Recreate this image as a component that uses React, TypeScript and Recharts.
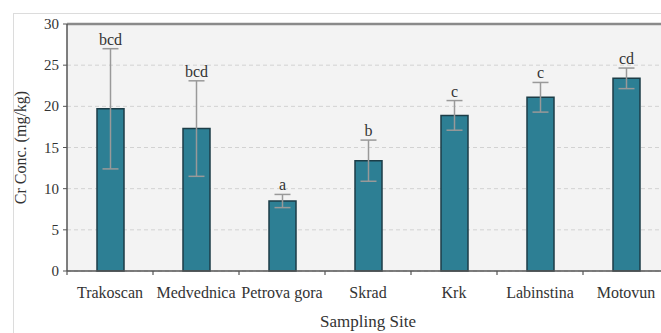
import { Bar, BarChart, CartesianGrid, ErrorBar, LabelList, ReferenceLine, XAxis, YAxis } from 'recharts';

const sites = ['Trakoscan', 'Medvednica', 'Petrova gora', 'Skrad', 'Krk', 'Labinstina', 'Motovun'];
const means = [19.7, 17.3, 8.5, 13.4, 18.9, 21.1, 23.4];
const errors = [7.3, 5.8, 0.8, 2.5, 1.8, 1.8, 1.25];
const groups = ['bcd', 'bcd', 'a', 'b', 'c', 'c', 'cd'];
const yTicks = [0, 5, 10, 15, 20, 25, 30];

const data = sites.map((site, i) => ({ site, cr: means[i], err: errors[i], group: groups[i] }));

const FONT = '"Liberation Serif", serif';
const TEXT = '#333';

function GroupLabel(props: any) {
  const { x, y, width, height, index } = props;
  const d = data[index];
  const perUnit = height / d.cr;
  const top = y - d.err * perUnit;
  return (
    <text x={x + width / 2} y={top - 4} textAnchor="middle" fontFamily={FONT} fontSize={16} fill={TEXT}>
      {d.group}
    </text>
  );
}

// category label at the band centre, small tick marks at the band edges
function SiteTick(props: any) {
  const { x, y, payload, index } = props;
  const half = payload.offset || 0;
  const last = index === sites.length - 1;
  return (
    <g>
      <line x1={x - half} x2={x - half} y1={y} y2={y + 4} stroke="#555" strokeWidth={1.2} />
      {last && <line x1={x + half} x2={x + half} y1={y} y2={y + 4} stroke="#555" strokeWidth={1.2} />}
      <text x={x} y={y + 27} textAnchor="middle" fontFamily={FONT} fontSize={16} fill={TEXT}>
        {payload.value}
      </text>
    </g>
  );
}

function ValueTick(props: any) {
  const { x, y, payload } = props;
  return (
    <text x={x} y={y + 5} textAnchor="end" fontFamily={FONT} fontSize={15} fill={TEXT}>
      {payload.value}
    </text>
  );
}

export default function App() {
  return (
    <div
      style={{
        position: 'absolute',
        left: 0,
        top: 0,
        width: 661,
        height: 333,
        overflow: 'hidden',
        background: '#fff',
      }}
    >
      <div
        style={{
          position: 'absolute',
          left: 13,
          top: 13,
          width: 700,
          height: 400,
          borderLeft: '1px solid #dcdcdc',
          borderTop: '1px solid #dcdcdc',
        }}
      />
      <div style={{ position: 'absolute', left: 0, top: 0 }}>
        <BarChart width={690} height={333} data={data} margin={{ top: 24, right: 21, bottom: 0, left: 0 }}>
          <CartesianGrid vertical={false} fill="#f3f3f3" stroke="#d2d2d2" strokeDasharray="4 3" />
          <XAxis
            dataKey="site"
            tickLine={false}
            tickSize={0}
            tickMargin={0}
            axisLine={{ stroke: '#555', strokeWidth: 1.5 }}
            height={62}
            tick={<SiteTick />}
            interval={0}
            label={{
              value: 'Sampling Site',
              position: 'insideBottom',
              offset: 6,
              style: { fontFamily: FONT, fontSize: 17, fill: TEXT },
            }}
          />
          <YAxis
            domain={[0, 30]}
            ticks={yTicks}
            width={67}
            axisLine={{ stroke: '#555', strokeWidth: 1.5 }}
            tickLine={{ stroke: '#555' }}
            tickSize={4}
            tickMargin={4}
            tick={<ValueTick />}
            label={{
              value: 'Cr Conc. (mg/kg)',
              angle: -90,
              position: 'insideLeft',
              offset: 20,
              style: { textAnchor: 'middle', fontFamily: FONT, fontSize: 16, fill: TEXT },
            }}
          />
          <ReferenceLine y={30} stroke="#8a8a8a" strokeWidth={2.5} />
          <Bar dataKey="cr" fill="#2d7f94" stroke="#1c3d47" strokeWidth={1.5} barSize={27} isAnimationActive={false}>
            <ErrorBar dataKey="err" width={8} stroke="#999" strokeWidth={1.5} />
            <LabelList dataKey="group" content={GroupLabel} />
          </Bar>
        </BarChart>
      </div>
    </div>
  );
}
